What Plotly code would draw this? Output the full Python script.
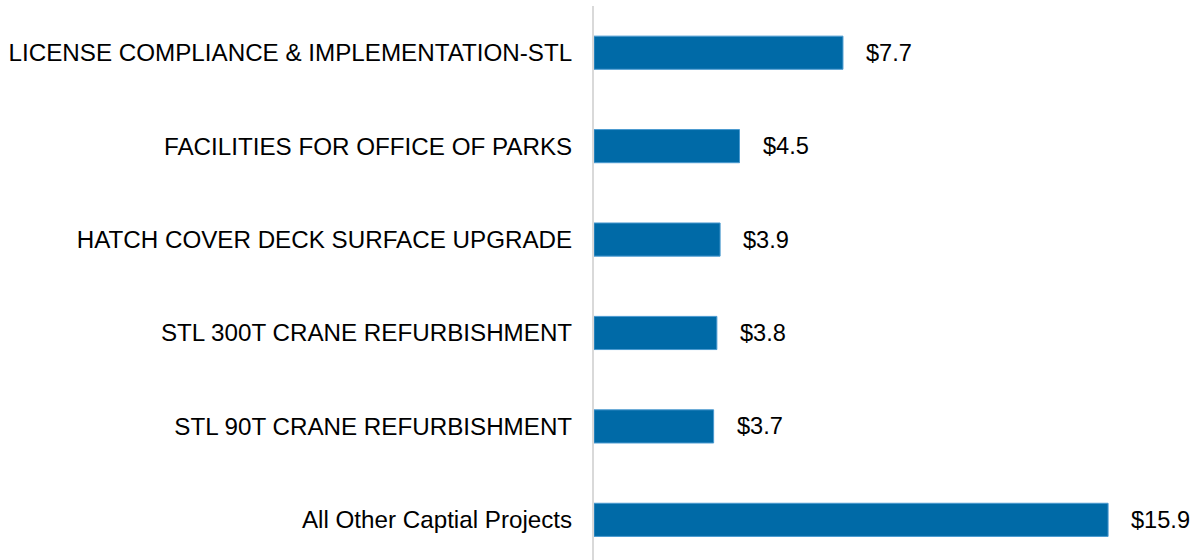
import plotly.graph_objects as go

projects = ['LICENSE COMPLIANCE & IMPLEMENTATION-STL',
            'FACILITIES FOR OFFICE OF PARKS',
            'HATCH COVER DECK SURFACE UPGRADE',
            'STL 300T CRANE REFURBISHMENT',
            'STL 90T CRANE REFURBISHMENT',
            'All Other Captial Projects']
amounts = [7.7, 4.5, 3.9, 3.8, 3.7, 15.9]
amount_labels = ['$7.7', '$4.5', '$3.9', '$3.8', '$3.7', '$15.9']

FONT = 'Liberation Sans, Arial'

fig = go.Figure()

# horizontal bars, top to bottom in list order
fig.add_trace(
    go.Bar(y=projects,
           x=amounts,
           orientation='h',
           width=0.355,
           marker=dict(color='#006AA7', line=dict(color='#4A9AD0', width=1)),
           showlegend=False,
           hoverinfo='skip')
)

# value labels to the right of each bar
for p, a, lab in zip(projects, amounts, amount_labels):
    fig.add_annotation(x=a, y=p, text=lab, showarrow=False,
                       xanchor='left', yanchor='middle', xshift=21,
                       font=dict(family=FONT, size=23.6, color='black'))

fig.update_layout(
    width=1197, height=560,
    margin=dict(l=594, r=0, t=6, b=0),
    plot_bgcolor='white',
    paper_bgcolor='white',
    font=dict(family=FONT, size=24, color='black'),
    xaxis=dict(range=[0, 18.65], visible=False, showgrid=False, zeroline=False),
    yaxis=dict(range=[5.43, -0.5], showgrid=False, zeroline=False,
               showline=True, linecolor='#D9D9D9', linewidth=2,
               ticks='', ticklabelstandoff=15,
               tickfont=dict(family=FONT, size=24.2, color='black')),
)

# drop the default page margin so the figure sits at the window's corner
fig.write_html("out.html", config={'displayModeBar': False},
               post_script="document.body.style.margin='0';")
